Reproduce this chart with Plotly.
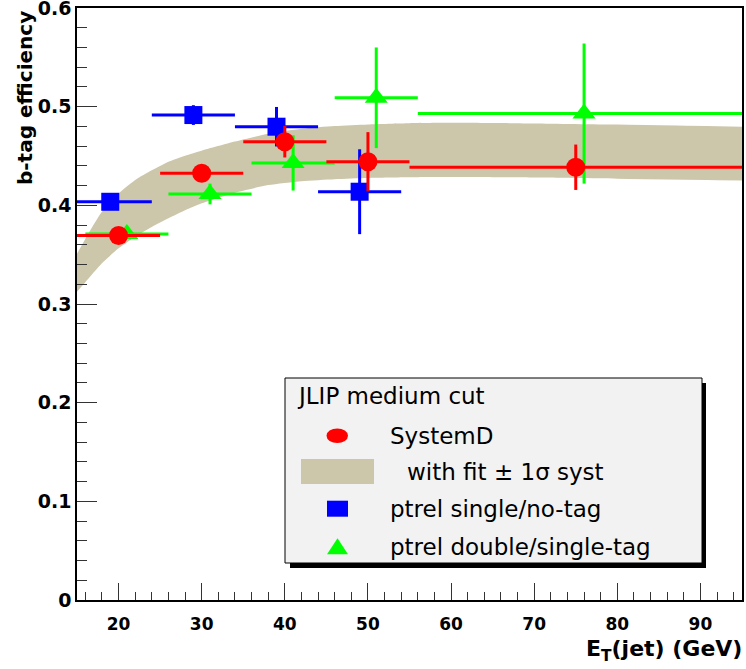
import plotly.graph_objects as go

# ---------------- data ----------------
sysd_et = [20, 30, 40, 50, 75]
sysd_eff = [0.3695, 0.4325, 0.4645, 0.4442, 0.4386]
sysd_et_err = [5, 5, 5, 5, 20]
sysd_eff_err = [0.004, 0.008, 0.016, 0.030, 0.023]

single_et = [19, 29, 39, 49]
single_eff = [0.4036, 0.4915, 0.4797, 0.4138]
single_et_err = [5, 5, 5, 5]
single_eff_err = [0.004, 0.010, 0.020, 0.043]

double_et = [21, 31, 41, 51, 76]
double_eff = [0.371, 0.4115, 0.443, 0.509, 0.493]
double_et_err = [5, 5, 5, 5, 20]
double_eff_err = [0.003, 0.0105, 0.028, 0.051, 0.071]

band_et = [15, 16, 18, 20, 22, 24, 26, 28, 30, 34, 38, 42, 46, 50, 55, 60, 70, 80, 95]
band_upper = [0.351, 0.366, 0.3935, 0.412, 0.4257, 0.4355, 0.4442, 0.4503, 0.4554, 0.4646,
              0.4725, 0.4775, 0.4803, 0.482, 0.4832, 0.4836, 0.483, 0.4818, 0.4796]
band_lower = [0.3125, 0.322, 0.3412, 0.3564, 0.3682, 0.378, 0.3868, 0.395, 0.402, 0.4128,
              0.4205, 0.4245, 0.4265, 0.4277, 0.4284, 0.4286, 0.4282, 0.427, 0.4252]

y_tick_vals = [0, 0.1, 0.2, 0.3, 0.4, 0.5, 0.6]
y_tick_text = ["0", "0.1", "0.2", "0.3", "0.4", "0.5", "0.6"]
x_tick_vals = [20, 30, 40, 50, 60, 70, 80, 90]
x_tick_text = ["20", "30", "40", "50", "60", "70", "80", "90"]

legend_title = "JLIP medium cut"
legend_labels = ["SystemD", "with fit \u00b1 1\u03c3 syst", "ptrel single/no-tag", "ptrel double/single-tag"]

RED = "#ff0000"
BLUE = "#0000ff"
GREEN = "#00ff00"
BAND = "#ccc6aa"

W, H = 746, 669
ML, MR, MT, MB = 77, 4, 8, 69
PW, PH = W - ML - MR, H - MT - MB


def px(x):
    return (x - ML) / PW


def py(y):
    return (H - MB - y) / PH


fig = go.Figure()

# fit band
fig.add_trace(go.Scatter(x=band_et, y=band_lower, mode="lines",
                         line=dict(width=0, color=BAND, shape="spline", smoothing=0.6),
                         hoverinfo="skip", showlegend=False))
fig.add_trace(go.Scatter(x=band_et, y=band_upper, mode="lines", fill="tonexty",
                         fillcolor=BAND,
                         line=dict(width=0, color=BAND, shape="spline", smoothing=0.6),
                         hoverinfo="skip", showlegend=False))


def pts(x, y, ex, ey, color, symbol, size):
    return go.Scatter(
        x=x, y=y, mode="markers",
        marker=dict(color=color, symbol=symbol, size=size, line=dict(width=0)),
        error_x=dict(type="data", array=ex, color=color, thickness=3, width=0),
        error_y=dict(type="data", array=ey, color=color, thickness=3, width=0),
        showlegend=False, cliponaxis=True)


fig.add_trace(pts(single_et, single_eff, single_et_err, single_eff_err, BLUE, "square", 18))
fig.add_trace(pts(double_et, double_eff, double_et_err, double_eff_err, GREEN, "triangle-up", 20))
fig.add_trace(pts(sysd_et, sysd_eff, sysd_et_err, sysd_eff_err, RED, "circle", 19))

tickfont_y = dict(family="DejaVu Sans", size=19, color="black", weight="bold")
tickfont_x = dict(family="DejaVu Sans", size=17, color="black", weight="bold")

fig.update_xaxes(range=[15, 95], tickmode="array", tickvals=x_tick_vals, ticktext=x_tick_text,
                 ticks="inside", ticklen=17, automargin=False, ticklabeloverflow="allow",
                 tickwidth=1, tickcolor="#333", showline=True, linecolor="black",
                 linewidth=1.5, mirror=True, showgrid=False, zeroline=False,
                 tickfont=tickfont_x, ticklabelstandoff=8,
                 minor=dict(dtick=2, tick0=20, ticks="inside", ticklen=8,
                            tickwidth=1, tickcolor="#333", showgrid=False))
fig.update_yaxes(range=[0, 0.6], tickmode="array", tickvals=y_tick_vals, ticktext=y_tick_text,
                 ticks="inside", ticklen=20, automargin=False, ticklabeloverflow="allow",
                 tickwidth=1, tickcolor="#333", showline=True, linecolor="black",
                 linewidth=1.5, mirror=True, showgrid=False, zeroline=False,
                 tickfont=tickfont_y,
                 minor=dict(dtick=0.02, tick0=0, ticks="inside", ticklen=10,
                            tickwidth=1, tickcolor="#333", showgrid=False))

shapes = []
annotations = []

# legend box with shadow
shapes.append(dict(type="rect", xref="paper", yref="paper",
                   x0=px(290), x1=px(706), y0=py(383), y1=py(568),
                   fillcolor="black", line=dict(width=0), layer="above"))
shapes.append(dict(type="rect", xref="paper", yref="paper",
                   x0=px(285), x1=px(702), y0=py(378), y1=py(563),
                   fillcolor="#f2f2f2", line=dict(width=1, color="black"), layer="above"))
# legend symbols
shapes.append(dict(type="circle", xref="paper", yref="paper",
                   x0=px(326.5), x1=px(348), y0=py(428.5), y1=py(443),
                   fillcolor=RED, line=dict(width=0), layer="above"))
shapes.append(dict(type="rect", xref="paper", yref="paper",
                   x0=px(301), x1=px(374), y0=py(459), y1=py(484),
                   fillcolor=BAND, line=dict(width=0), layer="above"))
shapes.append(dict(type="rect", xref="paper", yref="paper",
                   x0=px(327), x1=px(348), y0=py(500.7), y1=py(516.7),
                   fillcolor=BLUE, line=dict(width=0), layer="above"))
shapes.append(dict(type="path", xref="paper", yref="paper",
                   path=f"M {px(327)},{py(554.3)} L {px(348)},{py(554.3)} L {px(337.5)},{py(538.3)} Z",
                   fillcolor=GREEN, line=dict(width=0), layer="above"))

legfont = dict(family="DejaVu Sans", size=23, color="black")
annotations.append(dict(text=legend_title, xref="paper", yref="paper", x=px(295), y=py(396),
                        xanchor="left", yanchor="middle", showarrow=False, font=legfont))
for lab, xx, yy in zip(legend_labels, [388, 405, 388, 388], [435.7, 471.7, 509.3, 546.7]):
    annotations.append(dict(text=lab, xref="paper", yref="paper", x=px(xx), y=py(yy),
                            xanchor="left", yanchor="middle", showarrow=False, font=legfont))

# axis titles
annotations.append(dict(text="b-tag efficiency", xref="paper", yref="paper",
                        x=px(25), y=py(9), xanchor="center", yanchor="top", textangle=-90,
                        showarrow=False,
                        font=dict(family="DejaVu Sans", size=20, color="black", weight="bold")))
annotations.append(dict(text="E<sub>T</sub>(jet) (GeV)", xref="paper", yref="paper",
                        x=px(744), y=py(650), xanchor="right", yanchor="middle",
                        showarrow=False,
                        font=dict(family="DejaVu Sans", size=22, color="black", weight="bold")))

fig.update_layout(width=W, height=H, margin=dict(l=ML, r=MR, t=MT, b=MB),
                  plot_bgcolor="white", paper_bgcolor="white",
                  shapes=shapes, annotations=annotations, showlegend=False)

fig.write_html("out.html", config={"displayModeBar": False},
               post_script="document.body.style.margin='0';document.body.style.padding='0';")
